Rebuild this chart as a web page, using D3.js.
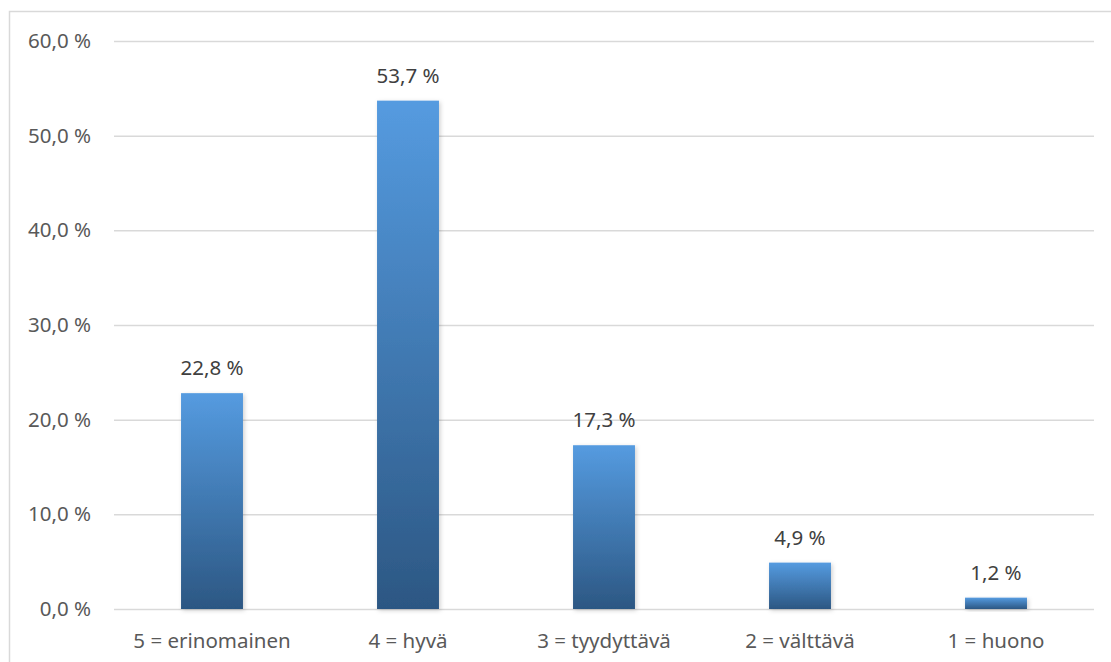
<!DOCTYPE html>
<html><head><meta charset="utf-8">
<script src="https://cdn.jsdelivr.net/npm/d3@7"></script>
<style>html,body{margin:0;padding:0;background:#fff;overflow:hidden}</style>
</head><body>
<svg id="c" width="1111" height="662"></svg>
<script>
const categories = ["5 = erinomainen", "4 = hyvä", "3 = tyydyttävä", "2 = välttävä", "1 = huono"];
const values = [22.8, 53.7, 17.3, 4.9, 1.2];
const yTicks = [0, 10, 20, 30, 40, 50, 60];

const svg = d3.select("#c");
const font = "'Noto Sans', sans-serif";
const textCol = "#595959";
const fs = "20.5px";

// chart border
svg.append("rect").attr("x", 9.5).attr("y", 11.5).attr("width", 1200).attr("height", 700)
  .attr("fill", "#fff").attr("stroke", "#d9d9d9").attr("stroke-width", 1.5);

const x = d3.scaleBand().domain(categories).range([114, 1094]).paddingInner(0.684).paddingOuter(0.342);
const y = d3.scaleLinear().domain([0, 60]).range([609, 41]);

const defs = svg.append("defs");
const grad = defs.append("linearGradient").attr("id", "g").attr("x1", 0).attr("y1", 0).attr("x2", 0).attr("y2", 1);
grad.append("stop").attr("offset", "0%").attr("stop-color", "#559BE0");
grad.append("stop").attr("offset", "100%").attr("stop-color", "#2C5783");
const f = defs.append("filter").attr("id", "sh").attr("x", "-20%").attr("y", "-10%").attr("width", "150%").attr("height", "130%");
f.append("feDropShadow").attr("dx", 1.5).attr("dy", 1.5).attr("stdDeviation", 2).attr("flood-color", "#000").attr("flood-opacity", 0.18);

// gridlines via axis
const yAxis = d3.axisLeft(y).tickValues(yTicks).tickSize(-(1094 - 114))
  .tickFormat(d => d3.format(".1f")(d).replace(".", ",") + " %");
const ga = svg.append("g").attr("transform", "translate(114,0)").call(yAxis);
ga.select(".domain").remove();
ga.selectAll(".tick line").attr("stroke", "#d9d9d9").attr("stroke-width", 1.5);
ga.selectAll(".tick text").attr("x", -23).attr("fill", textCol)
  .style("font-family", font).style("font-size", fs);

// bars
svg.append("g").selectAll("rect").data(values).join("rect")
  .attr("x", (d, i) => x(categories[i]))
  .attr("y", d => y(d))
  .attr("width", x.bandwidth())
  .attr("height", d => y(0) - y(d))
  .attr("fill", "url(#g)")
  .attr("filter", "url(#sh)");

// value labels
svg.append("g").selectAll("text").data(values).join("text")
  .attr("x", (d, i) => x(categories[i]) + x.bandwidth() / 2)
  .attr("y", d => y(d) - 18)
  .attr("text-anchor", "middle")
  .attr("fill", "#404040")
  .style("font-family", font).style("font-size", fs)
  .text(d => d3.format(".1f")(d).replace(".", ",") + " %");

// x axis labels
const xAxis = d3.axisBottom(x).tickSize(0).tickPadding(0);
const gx = svg.append("g").attr("transform", "translate(0,609)").call(xAxis);
gx.select(".domain").remove();
gx.selectAll(".tick text").attr("y", 0).attr("dy", 39).attr("fill", textCol)
  .style("font-family", font).style("font-size", fs);
</script>
</body></html>
